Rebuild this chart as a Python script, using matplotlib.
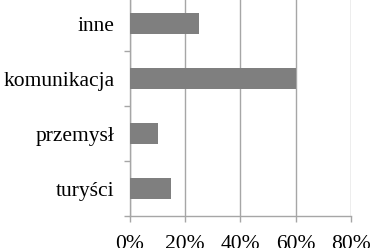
import matplotlib
matplotlib.use("Agg")
import matplotlib.pyplot as plt
from matplotlib.ticker import FixedLocator, PercentFormatter

categories = ["turyści", "przemysł", "komunikacja", "inne"]
shares = [0.15, 0.10, 0.60, 0.25]
x_ticks = [0.0, 0.2, 0.4, 0.6, 0.8]

BAR = "#7f7f7f"
GRID = "#a6a6a6"

plt.rcParams["font.family"] = ["Liberation Serif", "DejaVu Serif"]

fig = plt.figure(figsize=(3.72, 2.48), dpi=100)
ax = fig.add_axes([0.3495, 0.129, 0.594, 0.887])

ypos = list(range(len(categories)))
ax.barh(ypos, shares, height=0.38, color=BAR, zorder=3)

ax.set_xlim(0, 0.8)
ax.set_ylim(-0.5, len(categories) - 0.5)

ax.set_xticks(x_ticks)
ax.xaxis.set_major_formatter(PercentFormatter(1.0, decimals=0))
ax.grid(axis="x", color=GRID, linewidth=1.0, zorder=0)
ax.tick_params(axis="x", length=4, width=1.0, color=GRID, pad=9.5, labelsize=15.5)

ax.set_yticks(ypos)
ax.set_yticklabels(categories)
ax.yaxis.set_minor_locator(FixedLocator([i - 0.5 for i in range(len(categories) + 1)]))
ax.tick_params(axis="y", which="major", length=0, pad=11, labelsize=15.5)
ax.tick_params(axis="y", which="minor", length=4, width=1.0, color=GRID)

for side in ("top", "right"):
    ax.spines[side].set_visible(False)
for side in ("left", "bottom"):
    ax.spines[side].set_color(GRID)
    ax.spines[side].set_linewidth(1.0)

fig.savefig("out.png", dpi=100)
